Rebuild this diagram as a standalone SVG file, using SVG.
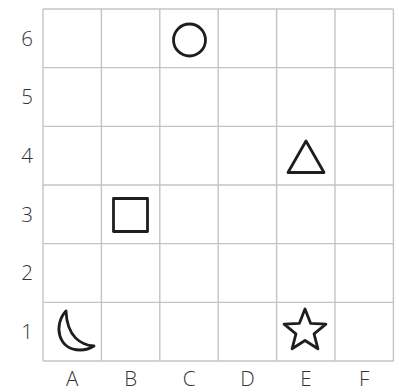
<svg xmlns="http://www.w3.org/2000/svg" width="399" height="392" viewBox="0 0 399 392">
<style>
.grid line{stroke:#c4c4c4;stroke-width:1.4}
.lbl{font-family:"Open Sans","Liberation Sans",sans-serif;font-weight:300;font-size:20.5px;fill:#333333;text-anchor:middle}
.shape{fill:none;stroke:#1e1e1e;stroke-width:2.8;stroke-linejoin:round}
</style>
<rect width="399" height="392" fill="#ffffff"/>
<g id="grid" class="grid">
<line x1="43" y1="9" x2="43" y2="361"/>
<line x1="101.4" y1="9" x2="101.4" y2="361"/>
<line x1="159.8" y1="9" x2="159.8" y2="361"/>
<line x1="218.2" y1="9" x2="218.2" y2="361"/>
<line x1="276.6" y1="9" x2="276.6" y2="361"/>
<line x1="335" y1="9" x2="335" y2="361"/>
<line x1="393.4" y1="9" x2="393.4" y2="361"/>
<line x1="43" y1="9" x2="393.4" y2="9"/>
<line x1="43" y1="67.67" x2="393.4" y2="67.67"/>
<line x1="43" y1="126.33" x2="393.4" y2="126.33"/>
<line x1="43" y1="185" x2="393.4" y2="185"/>
<line x1="43" y1="243.67" x2="393.4" y2="243.67"/>
<line x1="43" y1="302.33" x2="393.4" y2="302.33"/>
<line x1="43" y1="361" x2="393.4" y2="361"/>
</g>
<g id="row-labels" class="lbl">
<text x="27" y="46">6</text>
<text x="27" y="104">5</text>
<text x="27" y="163">4</text>
<text x="27" y="222">3</text>
<text x="27" y="280">2</text>
<text x="27" y="339">1</text>
</g>
<g id="col-labels" class="lbl">
<text x="72.2" y="386">A</text>
<text x="130.6" y="386">B</text>
<text x="189" y="386">C</text>
<text x="247.4" y="386">D</text>
<text x="305.8" y="386">E</text>
<text x="364.2" y="386">F</text>
</g>
<g id="circle"><circle class="shape" cx="189.5" cy="40" r="16"/></g>
<g id="triangle"><polygon class="shape" points="306,141 288,172.5 324,172.5"/></g>
<g id="square"><rect class="shape" x="113.5" y="198.5" width="34" height="33"/></g>
<g id="moon"><path class="shape" d="M66,311 C53,325 58,350 80,350 C86,350 91,348 94,346 C81,345 67,337 66,311 Z"/></g>
<g id="star"><polygon class="shape" points="305,309 310.58,323.31 325.92,324.2 314.04,333.94 317.93,348.8 305,340.5 292.07,348.8 295.96,333.94 284.08,324.2 299.42,323.31"/></g>
</svg>
